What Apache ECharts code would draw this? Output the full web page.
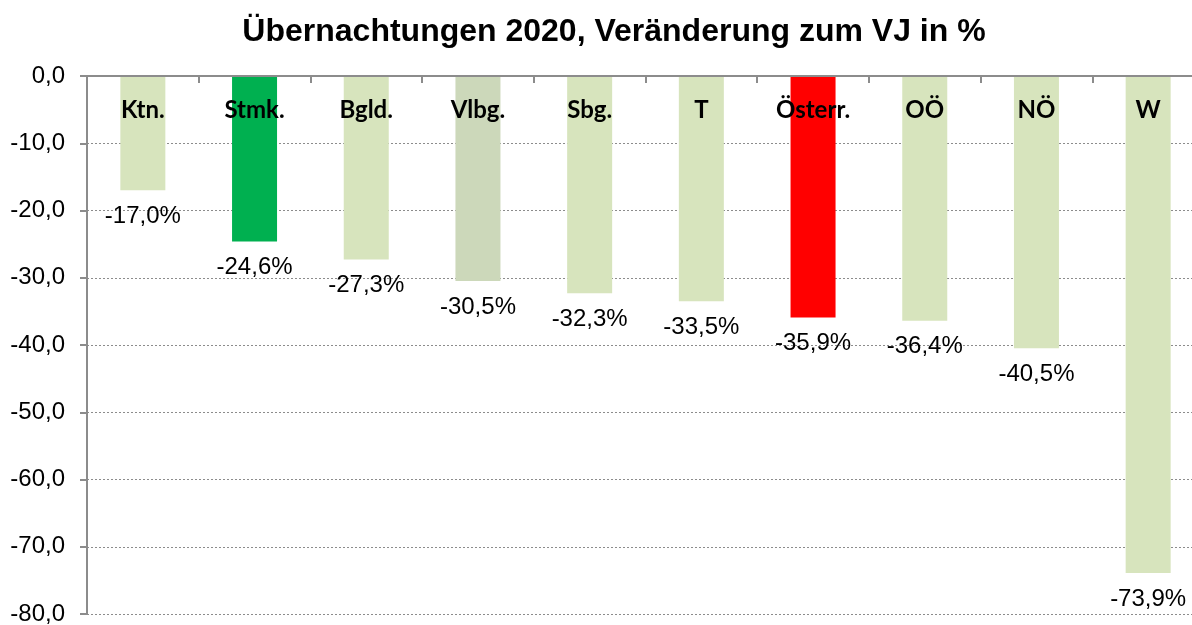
<!DOCTYPE html>
<html>
<head>
<meta charset="utf-8">
<script src="https://cdn.jsdelivr.net/npm/echarts@6/dist/echarts.min.js"></script>
<style>
  html, body { margin: 0; padding: 0; background: #fff; }
  #main { width: 1192px; height: 625px; }
</style>
</head>
<body>
<div id="main"></div>
<script>
// Bundesländer, sortiert nach Veränderung
const categories = ['Ktn.', 'Stmk.', 'Bgld.', 'Vlbg.', 'Sbg.', 'T', 'Österr.', 'OÖ', 'NÖ', 'W'];
const changes = [-17.0, -24.6, -27.3, -30.5, -32.3, -33.5, -35.9, -36.4, -40.5, -73.9];
const barColors = ['#D7E4BD', '#00B050', '#D7E4BD', '#CCD8BA', '#D7E4BD', '#D7E4BD', '#FF0000', '#D7E4BD', '#D7E4BD', '#D7E4BD'];

const fmt = v => v.toFixed(1).replace('.', ',');

const chart = echarts.init(document.getElementById('main'));
chart.setOption({
  backgroundColor: '#fff',
  animation: false,
  title: {
    text: 'Übernachtungen 2020, Veränderung zum VJ in %',
    left: 609,
    textAlign: 'center',
    top: 11,
    textStyle: {
      fontFamily: 'Liberation Sans',
      fontSize: 32,
      fontWeight: 'bold',
      color: '#000'
    }
  },
  grid: {
    left: 87,
    width: 1117,
    top: 76,
    height: 538,
    outerBoundsMode: 'none'
  },
  xAxis: {
    type: 'category',
    position: 'top',
    data: categories,
    axisLine: { lineStyle: { color: '#8c8c8c', width: 2 } },
    axisTick: { show: true, inside: true, length: 7, lineStyle: { color: '#8c8c8c', width: 2 } },
    axisLabel: {
      inside: true,
      margin: 22,
      color: '#000',
      fontFamily: 'Lato',
      fontWeight: 'bold',
      fontSize: 24
    },
    z: 10
  },
  yAxis: {
    type: 'value',
    min: -80,
    max: 0,
    interval: 10,
    axisLine: { show: true, lineStyle: { color: '#8c8c8c', width: 2 } },
    axisTick: { show: true, length: 7, lineStyle: { color: '#8c8c8c', width: 2 } },
    splitLine: { lineStyle: { color: '#8c8c8c', type: [2, 2], width: 1 } },
    axisLabel: {
      margin: 22,
      color: '#000',
      fontFamily: 'Liberation Sans',
      fontSize: 24,
      formatter: fmt
    }
  },
  series: [{
    type: 'bar',
    barWidth: 45,
    data: changes.map((v, i) => ({ value: v, itemStyle: { color: barColors[i] } })),
    label: {
      show: true,
      position: 'bottom',
      distance: 14,
      color: '#000',
      fontFamily: 'Liberation Sans',
      fontSize: 24,
      formatter: p => fmt(p.value) + '%'
    }
  }]
});
</script>
</body>
</html>
